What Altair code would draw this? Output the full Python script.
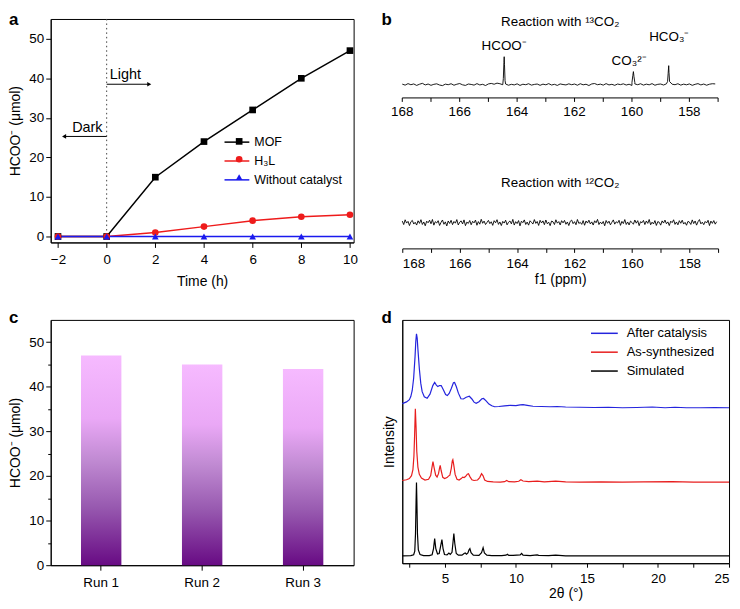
import altair as alt
import pandas as pd
import numpy as np

FONT = "Liberation Sans"
LAB = 13.5
TIT = 14

# ---------------- panel a ----------------
time_h = [-2, 0, 2, 4, 6, 8, 10]
mof = [0, 0, 15, 24, 32, 40, 47]
h3l = [0, 0, 1, 2.5, 4, 5, 5.5]
no_cat = [0, 0, 0, 0, 0, 0, 0]
series_a = ["MOF", "H₃L", "Without catalyst"]
marker_keys = ["m1", "m2", "m3"]
colors_a = ["#000000", "#ee1b1b", "#1a1aee"]
shapes_a = ["square", "circle", "triangle-up"]
light_arrow_x = [0, 1.75]
light_arrow_y = [38.5, 38.5]
dark_arrow_x = [0, -1.75]
dark_arrow_y = [25.3, 25.3]
notes_a = ["Light", "Dark"]
notes_a_x = [0.13, -0.17]
notes_a_y = [40.8, 27.4]

# ---------------- panel b ----------------
noise_13 = [0.4, -0.6, 0.9, -0.2, 0.6, -0.9, 0.3, 1.2, -0.4, 0.5,
            -0.8, 0.2, 0.7, -0.5, -1.1, 0.4, -0.2, 0.8, -0.7, 0.3,
            1.0, -0.3, -0.9, 0.5, 0.1, -0.6, 0.9, -0.4, 0.2, -1.0,
            0.6, 1.1, 0.3, 1.4, 0.8, -0.2, 0.5, -0.7, 0.2, -0.4,
            0.7, -0.9, 0.3, -0.2, 0.8, -0.6, 0.1, 0.5, -0.8, 0.4,
            -0.3, 0.9, -0.5, 0.2, -0.9, 0.6, 0.0, -0.4, 0.7, -0.2,
            0.5, -0.7, 0.8, -0.3, 0.3, -1.0, 0.6, 1.0, -0.2, 0.4,
            -0.6, 0.9, -0.4, 0.2, -0.8, 0.5, -0.1, 0.7, -0.5, 0.3,
            -0.9, 0.6, -0.2, 0.8, -0.6, 0.4, -0.3, 0.9, -0.7, 0.2,
            0.5, -0.5, 0.7, -0.9, 0.3, -0.2, 0.8, -0.6, 0.4, -0.3,
            0.6, -0.8, 0.2, 0.9, -0.4, 0.5, -0.7, 0.3, 0.8, 0.6]
peak_ppm_13 = [164.48, 164.46, 164.45, 164.44, 164.42,
               160.00, 159.97, 159.95, 159.93, 159.90,
               158.76, 158.74, 158.72, 158.71, 158.69]
peak_int_13 = [6, 22, 28, 20, 4,
               2, 9, 13, 8, 2,
               3, 11, 19, 12, 3]
peak_centers_13 = [164.45, 159.95, 158.72]
noise_12 = [1.5, -2.0, 2.8, -0.5, 1.2, -3.0, 0.8, 2.2, -1.5, 0.3,
            -2.5, 1.8, -0.8, 2.9, -1.9, 0.6, -3.2, 1.4, -0.2, 2.4,
            -1.2, 3.1, -2.6, 0.9, -0.4, 1.9, -2.9, 0.2, 2.6, -1.7,
            0.7, -3.4, 1.6, -0.9, 2.3, -2.1, 1.1, -0.6, 3.0, -2.4,
            0.4, 1.7, -1.4, 2.7, -3.1, 0.5, -0.9, 2.1, -2.2, 1.3,
            -0.3, 2.5, -2.7, 1.0, -1.6, 3.3, -0.7, 1.5, -2.0, 0.1,
            2.2, -1.1, 0.8, -2.8, 1.9, -0.2, 2.9, -1.8, 0.6, -3.0,
            1.2, -0.5, 2.4, -2.3, 0.3, 1.6, -1.3, 3.2, -2.5, 0.9,
            -1.0, 2.0, -3.3, 1.4, -0.1, 2.7, -1.9, 0.5, -2.6, 1.8,
            0.2, -1.5, 3.0, -0.8, 1.1, -2.9, 2.3, -0.4, 1.7, -2.1,
            2.6, -1.2, 0.4, -3.1, 1.5, 0.8, -2.0, 2.8, -0.6, 1.0,
            -2.4, 1.9, -0.3, 2.2, -1.7, 0.6, -3.0, 1.3, 2.5, -1.1,
            0.9, -2.2, 3.1, -0.9, 0.2, -1.8, 2.0, -2.7, 1.6, -0.5,
            2.4, -1.4, 0.7, -2.5, 1.8, -0.2, 3.2, -2.0, 0.5, -1.3,
            1.1, -3.2, 2.1, -0.7, 1.4, -2.3, 0.3, 2.7, -1.6, 0.8,
            -0.4, 2.3, -2.8, 1.2, -1.0, 3.0, -1.9, 0.6, -2.4, 1.5,
            0.1, -1.7, 2.6, -0.6, 1.9, -3.1, 0.9, -0.2, 2.2, -2.0,
            1.6, -0.8, 3.1, -2.2, 0.4, -1.4, 2.0, -2.9, 1.0, 0.3,
            -2.6, 1.7, -0.5, 2.5, -1.2, 0.7, -3.0, 1.4, -0.1, 2.8,
            -1.8, 0.6, -2.3, 1.9, -0.7, 2.4, -1.5, 0.2, -2.7, 1.2,
            0.5, -1.9, 2.7, -1.0, 1.6, -2.6, 0.8, 3.0, -1.3, 0.4,
            -2.1, 1.1, -0.4, 2.3, -3.0, 1.5, -0.8, 2.0, -1.6, 0.9]
offset_13 = 165
offset_12 = 26
labels_b = ["Reaction with ¹³CO₂", "HCOO⁻", "CO₃²⁻", "HCO₃⁻"]
labels_b_x = [162.5, 164.45, 160.1, 158.7]
labels_b_y = [228, 204, 189, 213]
label_b2 = ["Reaction with ¹²CO₂"]
label_b2_x = [162.5]
label_b2_y = [66]
ppm_ticks = list(range(157, 169))
ppm_labels = [168, 166, 164, 162, 160, 158]
upper_axis_level = 151.5

# ---------------- panel c ----------------
runs = ["Run 1", "Run 2", "Run 3"]
run_yield = [47, 45, 44]

# ---------------- panel d ----------------
after_x = [2.0, 2.3, 2.5, 2.6, 2.7, 2.8, 2.9, 2.95, 3.0, 3.05, 3.1, 3.2, 3.3, 3.4, 3.55, 3.75,
           3.95, 4.15, 4.28, 4.4, 4.5, 4.62, 4.74, 4.9, 5.05, 5.17, 5.3, 5.45, 5.6, 5.68, 5.8,
           5.95, 6.13, 6.3, 6.5, 6.72, 6.9, 7.05, 7.2, 7.4, 7.6, 7.72, 7.9, 8.1, 8.3, 8.5, 8.8,
           9.2, 9.6, 10.0, 10.3, 10.5, 10.8, 11.2, 11.8, 12.4, 12.9, 13.5, 14.5, 15.5, 16.5,
           17.5, 18.5, 19.6, 20.5, 21.2, 22.0, 23.0, 24.0, 25.0]
after_y = [65.6, 66.3, 67.2, 68.5, 71, 76, 85, 91, 94.3, 92.5, 88, 80, 74, 70.5, 68.4, 67.8,
           69.5, 73, 74.3, 73.2, 72.6, 73, 73, 71.2, 69.3, 68.9, 69.8, 71.8, 74.2, 74.3, 72.6,
           69.9, 67.6, 67.5, 68.2, 68.6, 67.5, 66.2, 65.7, 66.4, 67.6, 67.7, 66.7, 65.4, 64.7,
           64.3, 64.4, 64.7, 64.9, 64.8, 65.1, 65.2, 64.9, 64.5, 64.4, 64.3, 64.4, 64.2, 64.1,
           64.0, 64.1, 63.9, 64.0, 64.2, 63.9, 64.1, 63.9, 63.9, 64.0, 63.9]
synth_x = [2.0, 2.3, 2.5, 2.65, 2.75, 2.82, 2.87, 2.92, 2.97, 3.02, 3.1, 3.2, 3.35, 3.6, 3.85,
           4.0, 4.08, 4.16, 4.25, 4.35, 4.45, 4.55, 4.62, 4.67, 4.74, 4.85, 4.98, 5.15, 5.25,
           5.35, 5.45, 5.52, 5.56, 5.62, 5.72, 5.85, 6.0, 6.15, 6.25, 6.35, 6.45, 6.58, 6.66,
           6.76, 6.9, 7.05, 7.3, 7.45, 7.58, 7.68, 7.8, 8.0, 8.4, 8.9, 9.2, 9.35, 9.5, 9.9,
           10.2, 10.35, 10.5, 10.9, 11.5, 12.0, 12.8, 13.5, 14.5, 16.0, 17.5, 19.0, 21.0,
           22.5, 25.0]
synth_y = [34.0, 34.3, 34.8, 36, 38.5, 44, 53, 63.5, 56, 46, 39.5, 36.5, 35, 34.2, 34.5,
           36, 39, 41.8, 39, 36.2, 35.4, 36.8, 39, 40.2, 38, 35.3, 34.8, 35.2, 35.8,
           36.2, 39, 42, 42.5, 40.5, 36.5, 34.5, 34.2, 34.8, 35.4, 35.2, 35.6, 36.6, 36.8,
           35.6, 34.3, 34.0, 34.2, 35.2, 36.8, 36.0, 34.2, 33.6, 33.4, 33.3, 33.5, 34.0, 33.5,
           33.4, 33.7, 34.3, 33.8, 33.5, 33.7, 33.4, 33.7, 33.4, 33.3, 33.4, 33.3, 33.4, 33.5,
           33.3, 33.3]
sim_x = [2.0, 2.6, 2.8, 2.88, 2.93, 2.97, 3.0, 3.03, 3.07, 3.13, 3.25, 3.5, 3.9, 4.1, 4.2,
         4.28, 4.36, 4.48, 4.6, 4.7, 4.79, 4.87, 4.97, 5.15, 5.28, 5.38, 5.5, 5.57, 5.63, 5.7,
         5.8, 5.95, 6.2, 6.35, 6.43, 6.52, 6.62, 6.7, 6.76, 6.84, 7.0, 7.4, 7.58, 7.69, 7.78,
         7.95, 8.3, 9.0, 9.3, 9.4, 9.5, 9.8, 10.3, 10.4, 10.5, 11.0, 11.5, 11.6, 12.3, 12.8,
         13.5, 15.0, 17.0, 19.0, 21.0, 25.0]
sim_y = [3.0, 3.1, 3.5, 5, 12, 25, 33.2, 25, 12, 5.5, 3.6, 3.1, 3.1, 3.5, 6,
         10.1, 6, 3.8, 4, 7, 9.7, 6, 3.6, 3.4, 4.2, 3.6, 4.5, 8.5, 12.2, 8,
         4, 3.3, 3.3, 4.0, 4.2, 3.7, 4.2, 5.5, 6, 4.3, 3.3, 3.2, 4.3, 6.4, 4.2,
         3.3, 3.1, 3.1, 3.3, 3.7, 3.2, 3.2, 3.4, 4.0, 3.3, 3.1, 3.4, 3.2, 3.1, 3.3,
         3.0, 3.0, 3.0, 3.0, 3.0, 3.0]
series_d = ["After catalysis", "As-synthesized", "Simulated"]
colors_d = ["#2424dd", "#e81e1e", "#000000"]

# ================= build tables =================
df_a = pd.concat([
    pd.DataFrame({"t": time_h, "v": vals, "s": name, "s2": key})
    for name, key, vals in zip(series_a, marker_keys, [mof, h3l, no_cat])
], ignore_index=True)
df_zero = pd.DataFrame({"t": [0]})
df_arrows = pd.DataFrame({
    "x1": [light_arrow_x[0], dark_arrow_x[0]], "x2": [light_arrow_x[1], dark_arrow_x[1]],
    "y": [light_arrow_y[0], dark_arrow_y[0]],
    "shape": ["triangle-right", "triangle-left"]})
df_notes_a = pd.DataFrame({"txt": notes_a, "x": notes_a_x, "y": notes_a_y,
                           "al": ["left", "right"]})

ppm13 = np.round(168 - 0.1 * np.arange(len(noise_13)), 3)
keep13 = [min(abs(p - c) for c in peak_centers_13) > 0.03 for p in ppm13]
df13 = pd.concat([
    pd.DataFrame({"ppm": ppm13, "val": noise_13})[keep13],
    pd.DataFrame({"ppm": peak_ppm_13, "val": peak_int_13})], ignore_index=True)
df13 = df13.sort_values("ppm", ascending=False)
df13["yy"] = df13["val"] + offset_13
ppm12 = np.round(168 - 0.05 * np.arange(len(noise_12)), 3)
df12 = pd.DataFrame({"ppm": ppm12, "yy": np.array(noise_12) + offset_12})
df_lab_b = pd.DataFrame({"txt": labels_b, "ppm": labels_b_x, "yy": labels_b_y})
df_lab_b2 = pd.DataFrame({"txt": label_b2, "ppm": label_b2_x, "yy": label_b2_y})
df_uaxis = pd.DataFrame({"ppm": [max(ppm_ticks)], "ppm2": [min(ppm_ticks)],
                         "yy": [upper_axis_level]})
df_uticks = pd.DataFrame({"ppm": ppm_ticks, "yy": upper_axis_level,
                          "yy2": upper_axis_level - 4})
df_ulabels = pd.DataFrame({"ppm": ppm_labels, "yy": upper_axis_level - 7.5,
                           "txt": [str(v) for v in ppm_labels]})

df_c = pd.DataFrame({"run": runs, "v": run_yield})

df_d = pd.concat([
    pd.DataFrame({"tt": xs, "ii": ys, "sn": name})
    for name, xs, ys in zip(series_d, [after_x, synth_x, sim_x], [after_y, synth_y, sim_y])
], ignore_index=True)


def letter(ch, dx, dy):
    return alt.Chart(pd.DataFrame({"L": [ch]})).mark_text(
        align="left", baseline="top", fontSize=17, fontWeight="bold",
        font=FONT, color="black", x=dx, y=dy).encode(text="L:N")


def ticksize(expr):
    return {"expr": expr}


# ================= panel a =================
xa = alt.X("t:Q", scale=alt.Scale(domain=[-2.3, 10.15], nice=False, zero=False),
           axis=alt.Axis(title="Time (h)", values=list(range(-2, 11)),
                         labelExpr="datum.value % 2 === 0 ? datum.label : ''",
                         tickSize=ticksize("datum.value % 2 === 0 ? 5 : 3"),
                         labelPadding=5, titlePadding=9))
ya = alt.Y("v:Q", scale=alt.Scale(domain=[-1.5, 55], nice=False, zero=False),
           axis=alt.Axis(title="HCOO⁻ (μmol)", values=list(range(0, 55, 5)),
                         labelExpr="datum.value % 10 === 0 ? datum.label : ''",
                         tickSize=ticksize("datum.value % 10 === 0 ? 5 : 3"),
                         labelPadding=2, titlePadding=6))

zero_rule = alt.Chart(df_zero).mark_rule(strokeDash=[1.5, 3], color="#444444", strokeWidth=1).encode(
    x=alt.X("t:Q", scale=alt.Scale(domain=[-2.3, 10.15], nice=False, zero=False)))

lines_a = alt.Chart(df_a).mark_line(strokeWidth=1.5).encode(
    x=xa, y=ya,
    color=alt.Color("s:N", scale=alt.Scale(domain=series_a, range=colors_a),
                    legend=alt.Legend(title=None, orient="none", legendX=180.5, legendY=117,
                                      symbolType="M-2,0H2", symbolSize=156, symbolStrokeWidth=1.5,
                                      labelFontSize=12.5, labelFont=FONT, labelOffset=10.5,
                                      rowPadding=5, padding=0, labelColor="black")))
leg_pts = alt.Legend(title=None, orient="none", legendX=183.5, legendY=117, symbolSize=45,
                     symbolStrokeWidth=0, labelFontSize=12.5, labelFont=FONT, labelExpr="''",
                     rowPadding=5, padding=0)
points_a = alt.Chart(df_a).mark_point(filled=True, size=45, opacity=1).encode(
    x=xa, y=ya,
    shape=alt.Shape("s2:N", scale=alt.Scale(domain=marker_keys, range=shapes_a), legend=leg_pts),
    fill=alt.Fill("s2:N", scale=alt.Scale(domain=marker_keys, range=colors_a), legend=leg_pts))

arrow_lines = alt.Chart(df_arrows).mark_rule(color="black", strokeWidth=1).encode(
    x="x1:Q", x2="x2", y="y:Q")
arrow_heads = alt.Chart(df_arrows).mark_point(filled=True, size=22, color="black", opacity=1).encode(
    x="x2:Q", y="y:Q", shape=alt.Shape("shape:N", scale=None))
notes_l = alt.Chart(df_notes_a[df_notes_a.al == "left"]).mark_text(
    align="left", baseline="middle", fontSize=14.5, font=FONT, color="black").encode(
    x="x:Q", y="y:Q", text="txt:N")
notes_r = alt.Chart(df_notes_a[df_notes_a.al == "right"]).mark_text(
    align="right", baseline="middle", fontSize=14.5, font=FONT, color="black").encode(
    x="x:Q", y="y:Q", text="txt:N")

panel_a = alt.layer(zero_rule, lines_a, points_a, arrow_lines, arrow_heads, notes_l, notes_r,
                    letter("a", -42, -7)).properties(width=305, height=225)

# ================= panel b =================
xb = alt.X("ppm:Q", scale=alt.Scale(domain=[168, 157], nice=False, zero=False),
           axis=alt.Axis(title="f1 (ppm)", values=ppm_ticks,
                         labelExpr="datum.value % 2 === 0 ? datum.label : ''",
                         tickSize=4, labelPadding=4, titlePadding=3))
yb = alt.Y("yy:Q", scale=alt.Scale(domain=[0, 231], nice=False, zero=False), axis=None)

line13 = alt.Chart(df13).mark_line(color="black", strokeWidth=0.9).encode(
    x=xb, y=yb, order=alt.Order("ppm:Q", sort="descending"))
line12 = alt.Chart(df12).mark_line(color="black", strokeWidth=0.9).encode(
    x=xb, y=yb, order=alt.Order("ppm:Q", sort="descending"))
text13 = alt.Chart(df_lab_b).mark_text(fontSize=13.5, font=FONT, color="black",
                                       baseline="middle").encode(x=xb, y=yb, text="txt:N")
text12 = alt.Chart(df_lab_b2).mark_text(fontSize=13.5, font=FONT, color="black",
                                        baseline="middle").encode(x=xb, y=yb, text="txt:N")
uaxis = alt.Chart(df_uaxis).mark_rule(color="black", strokeWidth=1).encode(
    x=xb, x2="ppm2", y=yb)
uticks = alt.Chart(df_uticks).mark_rule(color="black", strokeWidth=1).encode(
    x=xb, y=yb, y2="yy2")
ulabels = alt.Chart(df_ulabels).mark_text(fontSize=LAB, font=FONT, color="black",
                                          baseline="top").encode(x=xb, y=yb, text="txt:N")

panel_b = alt.layer(line13, line12, text13, text12, uaxis, uticks, ulabels,
                    letter("b", -21, -7)).properties(
    width=318, height=231, view=alt.ViewBackground(stroke="transparent"))

# ================= panel c =================
grad = alt.Gradient(
    gradient="linear",
    stops=[alt.GradientStop(color="#f6baff", offset=0),
           alt.GradientStop(color="#eaa8f6", offset=0.3),
           alt.GradientStop(color="#c08ad2", offset=0.5),
           alt.GradientStop(color="#985ab0", offset=0.72),
           alt.GradientStop(color="#680b84", offset=1)],
    x1=0, x2=0, y1=0, y2=1)
bars_c = alt.Chart(df_c).mark_bar(color=grad).encode(
    x=alt.X("run:N", sort=runs, scale=alt.Scale(paddingInner=0.6, paddingOuter=0.3),
            axis=alt.Axis(title=None, labelAngle=0, tickSize=5, labelPadding=5)),
    y=alt.Y("v:Q", scale=alt.Scale(domain=[0, 55], nice=False),
            axis=alt.Axis(title="HCOO⁻ (μmol)", values=list(range(0, 55, 5)),
                          labelExpr="datum.value % 10 === 0 ? datum.label : ''",
                          tickSize=ticksize("datum.value % 10 === 0 ? 5 : 3"),
                          labelPadding=2, titlePadding=6)))
panel_c = alt.layer(bars_c, letter("c", -42, -10)).properties(width=305, height=247)

# ================= panel d =================
lines_d = alt.Chart(df_d).mark_line(strokeWidth=1.2).encode(
    x=alt.X("tt:Q", scale=alt.Scale(domain=[2, 25], nice=False, zero=False),
            axis=alt.Axis(title="2θ (°)", values=[2.5 * i for i in range(1, 11)],
                          labelExpr="datum.value % 5 === 0 ? datum.label : ''",
                          tickSize=4, labelPadding=4, titlePadding=2)),
    y=alt.Y("ii:Q", scale=alt.Scale(domain=[0, 100], nice=False, zero=False),
            axis=alt.Axis(title="Intensity", labels=False, ticks=False, titlePadding=6)),
    color=alt.Color("sn:N", scale=alt.Scale(domain=series_d, range=colors_d),
                    legend=alt.Legend(title=None, orient="none", legendX=196, legendY=6,
                                      symbolType="M-2,0H2", symbolSize=182, symbolStrokeWidth=1.5,
                                      labelFontSize=13, labelFont=FONT, labelOffset=15,
                                      rowPadding=4, padding=0, labelColor="black")))
panel_d = alt.layer(lines_d, letter("d", -21, -10)).properties(width=329, height=245)

chart = alt.concat(
    panel_a, panel_b, panel_c, panel_d, columns=2,
    spacing={"row": 72, "column": 49}, bounds="flush"
).resolve_scale(
    x="independent", y="independent", color="independent", fill="independent", shape="independent"
).resolve_legend(
    color="independent", fill="independent", shape="independent"
).properties(
    padding={"left": 0, "top": 0, "right": 0, "bottom": 0}
).configure(font=FONT).configure_view(
    stroke="black", strokeWidth=1
).configure_axis(
    grid=False, domainColor="black", tickColor="black", labelColor="black", titleColor="black",
    labelFont=FONT, titleFont=FONT, labelFontSize=LAB, titleFontSize=TIT,
    titleFontWeight="normal", domainWidth=1, tickWidth=1
)

chart.save("out.html", embed_options={"renderer": "svg", "actions": False})
